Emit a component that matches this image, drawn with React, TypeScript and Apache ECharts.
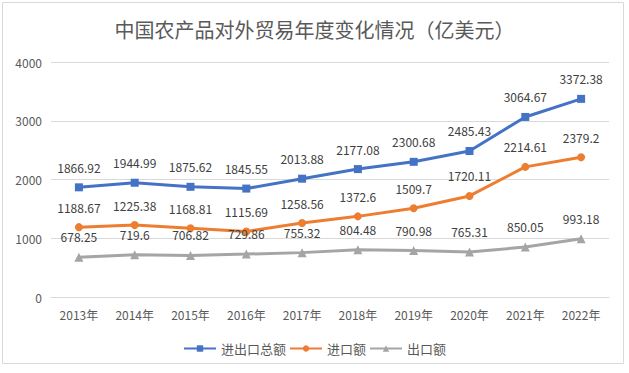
import React, { useEffect, useRef } from "react";
import * as echarts from "echarts";

const categories = ["2013年", "2014年", "2015年", "2016年", "2017年", "2018年", "2019年", "2020年", "2021年", "2022年"];
const totalValues = [1866.92, 1944.99, 1875.62, 1845.55, 2013.88, 2177.08, 2300.68, 2485.43, 3064.67, 3372.38];
const importValues = [1188.67, 1225.38, 1168.81, 1115.69, 1258.56, 1372.6, 1509.7, 1720.11, 2214.61, 2379.2];
const exportValues = [678.25, 719.6, 706.82, 729.86, 755.32, 804.48, 790.98, 765.31, 850.05, 993.18];
const seriesNames = ["进出口总额", "进口额", "出口额"];
const titleText = "中国农产品对外贸易年度变化情况（亿美元）";

const FONT = "'Noto Sans CJK SC', 'Noto Sans', sans-serif";

export default function App() {
  const ref = useRef<HTMLDivElement>(null);
  useEffect(() => {
    document.body.style.margin = "0";
    const chart = echarts.init(ref.current!, null, { renderer: "svg" });
    const label = {
      show: true,
      position: "top" as const,
      distance: 10,
      color: "#404040",
      fontSize: 12,
      fontFamily: FONT,
    };
    chart.setOption({
      animation: false,
      backgroundColor: "#ffffff",
      textStyle: { fontFamily: FONT },
      title: {
        text: titleText,
        left: "center",
        top: 14,
        textStyle: { fontSize: 20, fontWeight: "normal", color: "#595959", fontFamily: FONT },
      },
      graphic: [
        {
          type: "rect",
          shape: { x: 2.5, y: 2.5, width: 621, height: 361 },
          style: { fill: "none", stroke: "#d9d9d9", lineWidth: 1 },
          silent: true,
        },
      ],
      legend: {
        top: 337,
        left: "center",
        itemWidth: 32,
        itemHeight: 8,
        itemGap: 3,
        textStyle: { color: "#595959", fontSize: 13, fontFamily: FONT },
        data: seriesNames,
      },
      grid: { left: 51, right: 20, top: 62, bottom: 76 },
      xAxis: {
        type: "category",
        data: categories,
        boundaryGap: true,
        axisLine: { lineStyle: { color: "#d9d9d9" } },
        axisTick: { show: false },
        axisLabel: { color: "#595959", fontSize: 12, margin: 11, fontFamily: FONT },
      },
      yAxis: {
        type: "value",
        min: 0,
        max: 4000,
        interval: 1000,
        axisLine: { show: false },
        axisTick: { show: false },
        splitLine: { lineStyle: { color: "#d9d9d9" } },
        axisLabel: {
          color: "#595959",
          fontSize: 12,
          margin: 9,
          fontFamily: FONT,
          formatter: (v: number) => String(v),
        },
      },
      series: [
        {
          name: seriesNames[0],
          type: "line",
          data: totalValues,
          symbol: "rect",
          symbolSize: 8,
          lineStyle: { width: 3, color: "#4472C4" },
          itemStyle: { color: "#4472C4" },
          label,
        },
        {
          name: seriesNames[1],
          type: "line",
          data: importValues,
          symbol: "circle",
          symbolSize: 8,
          lineStyle: { width: 3, color: "#ED7D31" },
          itemStyle: { color: "#ED7D31" },
          label,
        },
        {
          name: seriesNames[2],
          type: "line",
          data: exportValues,
          symbol: "triangle",
          symbolSize: 9,
          lineStyle: { width: 3, color: "#A5A5A5" },
          itemStyle: { color: "#A5A5A5" },
          label,
        },
      ],
    });
    return () => chart.dispose();
  }, []);
  return <div ref={ref} style={{ width: 629, height: 373 }} />;
}
